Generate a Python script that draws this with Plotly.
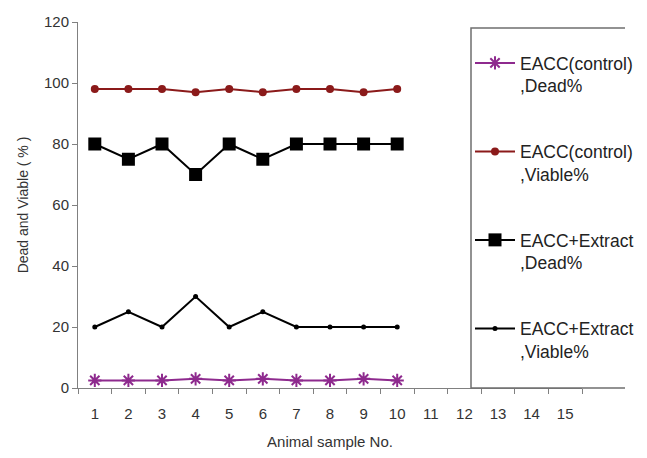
import plotly.graph_objects as go

x_labels = [str(i) for i in range(1, 16)]
samples = [str(i) for i in range(1, 11)]

control_dead = [2.5, 2.5, 2.5, 3, 2.5, 3, 2.5, 2.5, 3, 2.5]
control_viable = [98, 98, 98, 97, 98, 97, 98, 98, 97, 98]
extract_dead = [80, 75, 80, 70, 80, 75, 80, 80, 80, 80]
extract_viable = [20, 25, 20, 30, 20, 25, 20, 20, 20, 20]

names = ["EACC(control)<br>,Dead%", "EACC(control)<br>,Viable%",
         "EACC+Extract<br>,Dead%", "EACC+Extract<br>,Viable%"]

PURPLE = "#8E2A8E"
RED = "#8B1A1A"
BLACK = "#000000"

fig = go.Figure()
fig.add_trace(go.Scatter(
    x=samples, y=control_dead, name=names[0], legendgroup="a", mode="lines+markers",
    line=dict(color=PURPLE, width=2),
    marker=dict(symbol="asterisk-open", size=11, color=PURPLE,
                line=dict(color=PURPLE, width=2))))
fig.add_trace(go.Scatter(
    x=samples, y=control_viable, name=names[1], legendgroup="b", mode="lines+markers",
    line=dict(color=RED, width=2),
    marker=dict(symbol="circle", size=8, color=RED)))
fig.add_trace(go.Scatter(
    x=samples, y=extract_dead, name=names[2], legendgroup="c", mode="lines+markers",
    line=dict(color=BLACK, width=2),
    marker=dict(symbol="square", size=13, color=BLACK)))
fig.add_trace(go.Scatter(
    x=samples, y=extract_viable, name=names[3], legendgroup="d", mode="lines+markers",
    line=dict(color=BLACK, width=2),
    marker=dict(symbol="circle", size=5, color=BLACK)))

# the page body has an 8px margin; size the figure so it fits without scrollbars
OFF = 8
W, H = 647 - 2 * OFF, 458 - 2 * OFF
PL, PR, PT, PB = 78, 582, 22, 388   # plot area in page pixels
L, R, T, B = PL - OFF, W - (PR - OFF), PT - OFF, H - (PB - OFF)
pw = W - L - R
ph = H - T - B

def px_x(p):
    return (p - OFF - L) / pw

def px_y(p):
    return (H - B - (p - OFF)) / ph

# legend frame drawn as one open path: bottom, left and top edges only
bx0, bx1, by0, by1 = px_x(471), px_x(625), px_y(388), px_y(28)
fig.add_shape(type="path", xref="paper", yref="paper",
              path=f"M {bx1},{by0} L {bx0},{by0} L {bx0},{by1} L {bx1},{by1}",
              line=dict(color="#6f6f6f", width=1.5), fillcolor="rgba(0,0,0,0)")

fig.update_layout(
    width=W, height=H,
    margin=dict(l=L, r=R, t=T, b=B, autoexpand=False),
    paper_bgcolor="white", plot_bgcolor="white",
    font=dict(family="Liberation Sans, Arial, sans-serif", color="#333333", size=15),
    showlegend=True,
    legend=dict(
        x=px_x(470), xanchor="left", y=px_y(45), yanchor="top",
        traceorder="grouped", tracegroupgap=40, valign="top", itemwidth=40,
        font=dict(size=17.5, color="#222222"),
        bgcolor="rgba(0,0,0,0)", borderwidth=0, bordercolor="rgba(0,0,0,0)",
    ),
    xaxis=dict(
        type="category", categoryorder="array", categoryarray=x_labels,
        tickvals=x_labels, ticktext=x_labels,
        range=[-0.5, 14.5], tickson="boundaries", ticks="outside", ticklen=5,
        tickcolor="#808080", showline=True, linecolor="#808080", linewidth=1,
        showgrid=False, zeroline=False, ticklabelstandoff=12,
        title=dict(text="Animal sample No.", font=dict(size=15, color="#333333"), standoff=26),
    ),
    yaxis=dict(
        range=[0, 120], dtick=20, ticks="outside", ticklen=5,
        tickcolor="#808080", showline=True, linecolor="#808080", linewidth=1,
        showgrid=False, zeroline=False,
        title=dict(text="Dead and Viable ( % )", font=dict(size=14, color="#333333"), standoff=12),
    ),
)

fig.write_html("out.html")
